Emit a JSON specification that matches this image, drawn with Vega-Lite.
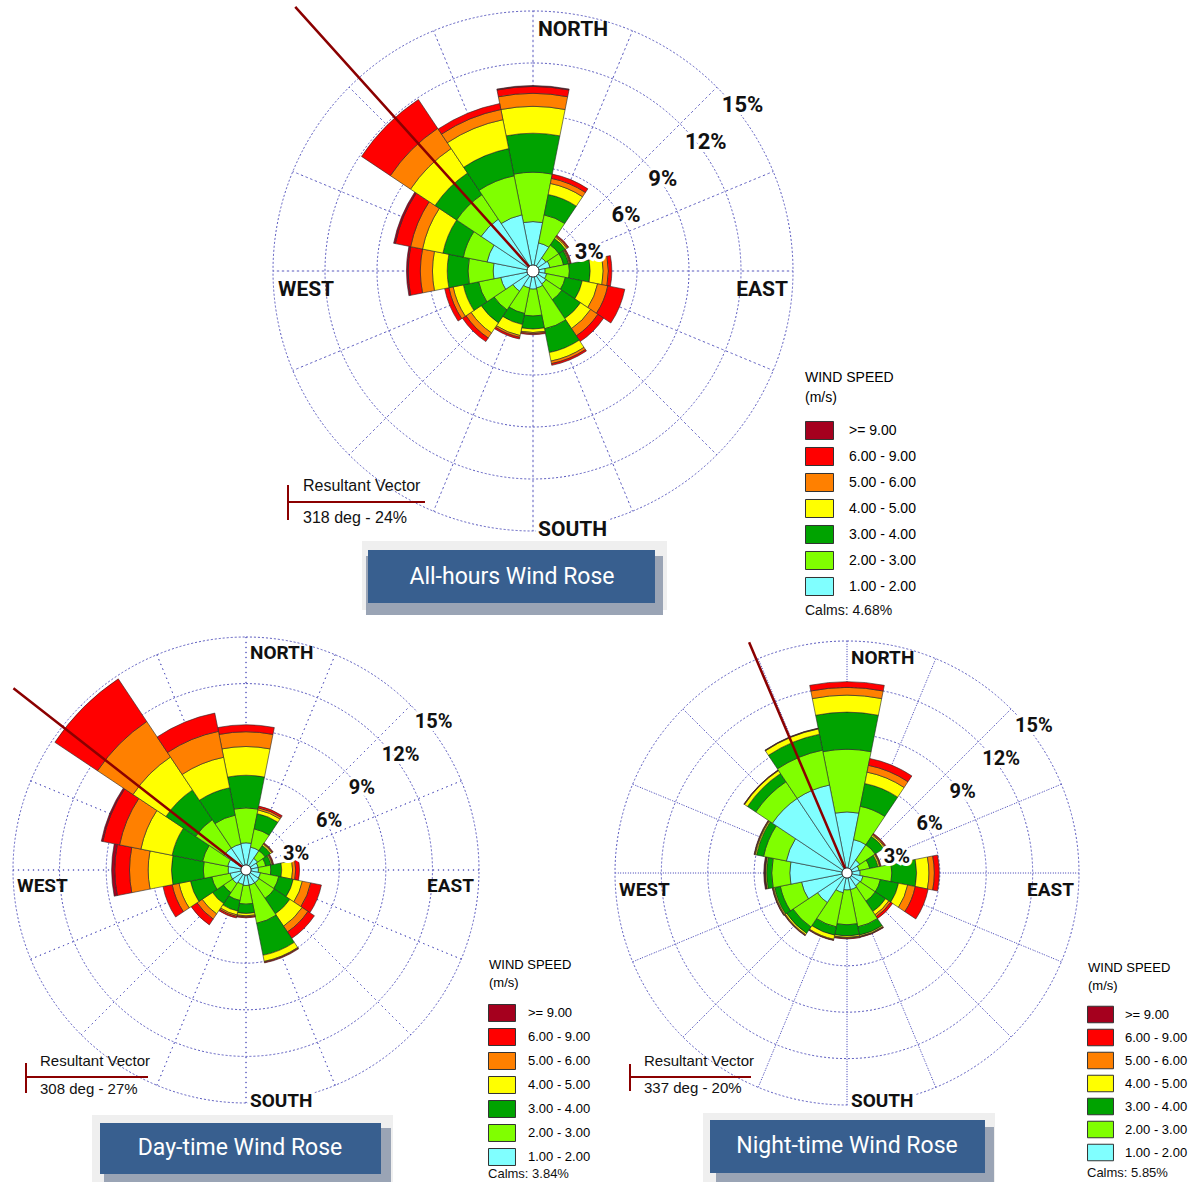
{
"$schema":"https://vega.github.io/schema/vega-lite/v6.json",
"padding":0,
"background":"white",
"bounds":"flush",
"spacing":40,
"config":{"view":{"stroke":null}},
"datasets":{
"rings":[{"r":3,"lab":"3%"},{"r":6,"lab":"6%"},{"r":9,"lab":"9%"},{"r":12,"lab":"12%"},{"r":15,"lab":"15%"}],
"dirs":[{"d":0},{"d":22.5},{"d":45},{"d":67.5},{"d":90},{"d":112.5},{"d":135},{"d":157.5},{"d":180},{"d":202.5},{"d":225},{"d":247.5},{"d":270},{"d":292.5},{"d":315},{"d":337.5}],
"all":[
{"dir":0,"s1":2.85,"s2":2.85,"s3":2.25,"s4":1.55,"s5":0.75,"s6":0.40,"s7":0.05},
{"dir":22.5,"s1":1.65,"s2":1.65,"s3":1.20,"s4":0.65,"s5":0.30,"s6":0.25},
{"dir":45,"s1":0.90,"s2":0.90,"s3":0.45,"s4":0.10,"s5":0.07,"s6":0.06},
{"dir":67.5,"s1":1.00,"s2":0.80,"s3":0.30,"s4":0.05,"s5":0.05,"s6":0.05},
{"dir":90,"s1":0.70,"s2":1.40,"s3":1.20,"s4":0.75,"s5":0.30,"s6":0.20},
{"dir":112.5,"s1":0.80,"s2":1.10,"s3":1.00,"s4":0.90,"s5":0.60,"s6":1.00},
{"dir":135,"s1":0.90,"s2":1.10,"s3":1.30,"s4":0.70,"s5":0.50,"s6":0.40},
{"dir":157.5,"s1":1.00,"s2":2.40,"s3":1.40,"s4":0.50,"s5":0.15,"s6":0.10},
{"dir":180,"s1":1.05,"s2":1.55,"s3":0.75,"s4":0.20,"s5":0.07,"s6":0.06},
{"dir":202.5,"s1":1.00,"s2":1.50,"s3":0.65,"s4":0.65,"s5":0.10,"s6":0.10},
{"dir":225,"s1":1.40,"s2":1.30,"s3":0.90,"s4":0.70,"s5":0.35,"s6":0.25},
{"dir":247.5,"s1":1.90,"s2":1.30,"s3":0.90,"s4":0.60,"s5":0.25,"s6":0.25},
{"dir":270,"s1":2.30,"s2":1.45,"s3":1.20,"s4":0.85,"s5":0.70,"s6":0.70,"s7":0.10},
{"dir":292.5,"s1":2.70,"s2":1.40,"s3":1.20,"s4":1.20,"s5":0.70,"s6":0.90,"s7":0.10},
{"dir":315,"s1":3.60,"s2":1.70,"s3":1.50,"s4":1.70,"s5":1.40,"s6":2.00},
{"dir":337.5,"s1":3.30,"s2":2.30,"s3":1.60,"s4":1.70,"s5":0.60,"s6":0.35}
],
"day":[
{"dir":0,"s1":1.75,"s2":2.25,"s3":2.10,"s4":1.85,"s5":0.95,"s6":0.45},
{"dir":22.5,"s1":1.50,"s2":1.20,"s3":1.00,"s4":0.25,"s5":0.13,"s6":0.12},
{"dir":45,"s1":0.90,"s2":0.60,"s3":0.40,"s4":0.10,"s5":0.05,"s6":0.05},
{"dir":67.5,"s1":0.80,"s2":0.50,"s3":0.35,"s4":0.07,"s5":0.05,"s6":0.05},
{"dir":90,"s1":0.80,"s2":0.80,"s3":0.70,"s4":0.70,"s5":0.20,"s6":0.25},
{"dir":112.5,"s1":0.95,"s2":1.20,"s3":0.95,"s4":0.60,"s5":0.55,"s6":0.70},
{"dir":135,"s1":1.00,"s2":1.20,"s3":1.20,"s4":0.95,"s5":0.45,"s6":0.50},
{"dir":157.5,"s1":1.00,"s2":2.50,"s3":2.10,"s4":0.40,"s5":0.05,"s6":0.05},
{"dir":180,"s1":1.00,"s2":1.20,"s3":0.60,"s4":0.15,"s5":0.07,"s6":0.06},
{"dir":202.5,"s1":0.95,"s2":1.05,"s3":0.70,"s4":0.25,"s5":0.10,"s6":0.10},
{"dir":225,"s1":1.05,"s2":0.70,"s3":0.85,"s4":0.80,"s5":0.40,"s6":0.45},
{"dir":247.5,"s1":1.05,"s2":1.20,"s3":1.40,"s4":0.75,"s5":0.45,"s6":0.60},
{"dir":270,"s1":1.15,"s2":1.60,"s3":2.05,"s4":1.50,"s5":1.20,"s6":0.95,"s7":0.20},
{"dir":292.5,"s1":1.20,"s2":1.65,"s3":2.00,"s4":2.05,"s5":1.40,"s6":1.10,"s7":0.10},
{"dir":315,"s1":1.70,"s2":2.20,"s3":2.30,"s4":2.55,"s5":2.75,"s6":3.30},
{"dir":337.5,"s1":1.70,"s2":1.90,"s3":1.80,"s4":2.00,"s5":1.70,"s6":1.20}
],
"night":[
{"dir":0,"s1":3.95,"s2":4.05,"s3":2.40,"s4":1.10,"s5":0.50,"s6":0.37},
{"dir":22.5,"s1":2.20,"s2":2.20,"s3":1.50,"s4":0.75,"s5":0.45,"s6":0.45},
{"dir":45,"s1":1.00,"s2":1.20,"s3":0.65,"s4":0.10,"s5":0.07,"s6":0.06},
{"dir":67.5,"s1":0.80,"s2":0.70,"s3":0.55,"s4":0.10,"s5":0.05,"s6":0.05},
{"dir":90,"s1":0.85,"s2":2.05,"s3":1.60,"s4":0.80,"s5":0.35,"s6":0.32},
{"dir":112.5,"s1":1.05,"s2":1.15,"s3":1.20,"s4":0.60,"s5":0.50,"s6":0.85},
{"dir":135,"s1":1.00,"s2":1.20,"s3":0.80,"s4":0.25,"s5":0.15,"s6":0.15},
{"dir":157.5,"s1":1.10,"s2":2.45,"s3":0.55,"s4":0.08,"s5":0.04,"s6":0.03},
{"dir":180,"s1":1.10,"s2":2.25,"s3":0.72,"s4":0.10,"s5":0.05,"s6":0.05},
{"dir":202.5,"s1":1.30,"s2":2.25,"s3":0.55,"s4":0.27,"s5":0.05,"s6":0.03},
{"dir":225,"s1":2.30,"s2":1.90,"s3":0.50,"s4":0.10,"s5":0.05,"s6":0.03},
{"dir":247.5,"s1":3.00,"s2":1.40,"s3":0.38,"s4":0.07,"s5":0.05,"s6":0.03},
{"dir":270,"s1":3.70,"s2":1.17,"s3":0.33,"s4":0.07,"s5":0.03,"s6":0.03,"s7":0.05},
{"dir":292.5,"s1":4.00,"s2":1.50,"s3":0.47,"s4":0.08,"s5":0.05,"s6":0.03},
{"dir":315,"s1":5.80,"s2":1.30,"s3":0.64,"s4":0.23,"s5":0.03,"s6":0.02},
{"dir":337.5,"s1":5.80,"s2":2.30,"s3":1.05,"s4":0.35,"s5":0.03,"s6":0.02}
]
},
"resolve":{"scale":{"fill":"independent","radius":"independent","theta":"independent","x":"independent","y":"independent"},"legend":{"fill":"independent"}},
"vconcat":[
{
"width":1066,"height":542,
"layer":[
{"data":{"name":"rings"},"mark":{"type":"arc","filled":false,"stroke":"#5a5abf","strokeWidth":1,"strokeDash":[2,2]},
 "encoding":{"theta":{"datum":0,"type":"quantitative","stack":null,"scale":{"type":"linear","domain":[0,360],"range":[0,6.283185307179586],"nice":false,"zero":false}},"theta2":{"datum":360},
 "radius":{"field":"r","type":"quantitative","stack":null,"scale":{"type":"linear","domain":[0,15],"range":[0,260],"nice":false}}}},
{"data":{"name":"dirs"},"mark":{"type":"arc","filled":false,"stroke":"#5a5abf","strokeWidth":1,"strokeDash":[1.2,3.8]},
 "encoding":{"theta":{"field":"d","type":"quantitative","stack":null},"theta2":{"field":"d"},"radius":{"datum":15,"type":"quantitative"},"radius2":{"datum":0}}},
{"data":{"name":"all"},
 "transform":[{"fold":["s1","s2","s3","s4","s5","s6","s7"],"as":["key","value"]},{"filter":"datum.value > 0"},{"stack":"value","groupby":["dir"],"sort":[{"field":"key","order":"ascending"}],"as":["r0","r1"]}],
 "mark":{"type":"arc","stroke":"#262626","strokeWidth":0.6,"thetaOffset":-0.19635,"theta2Offset":0.19635},
 "encoding":{"theta":{"field":"dir","type":"quantitative","stack":null},"theta2":{"field":"dir"},
  "radius":{"field":"r1","type":"quantitative","stack":null},"radius2":{"field":"r0"},
  "fill":{"field":"key","type":"nominal","scale":{"domain":["s7","s6","s5","s4","s3","s2","s1"],"range":["#A5001E","#FF0000","#FF8000","#FFFF00","#00A300","#80FF00","#80FFFF"]},
   "legend":{"title":["WIND SPEED","(m/s)"],"orient":"none","legendX":805,"legendY":371,"symbolType":"M-1,-0.643H1V0.643H-1Z","symbolSize":784,"symbolStrokeColor":"#333","symbolStrokeWidth":1,"labelFont":"Liberation Sans","labelFontSize":14,"labelColor":"#000","labelOffset":15,"titleFont":"Liberation Sans","titleFontSize":14,"titleFontWeight":"normal","titleColor":"#000","titleLineHeight":20,"titlePadding":11,"rowPadding":0,
   "labelExpr":"['>= 9.00','6.00 - 9.00','5.00 - 6.00','4.00 - 5.00','3.00 - 4.00','2.00 - 3.00','1.00 - 2.00'][indexof(['s7','s6','s5','s4','s3','s2','s1'], datum.value)]"}}}},
{"data":{"values":[{}]},"mark":{"type":"arc","filled":false,"stroke":"#8B0000","strokeWidth":2.5},
 "encoding":{"theta":{"datum":318,"type":"quantitative"},"theta2":{"datum":318},"radius":{"datum":20.5,"type":"quantitative","stack":null},"radius2":{"datum":0}}},
{"data":{"values":[{}]},"mark":{"type":"arc","fill":"white","stroke":"#222","strokeWidth":1},
 "encoding":{"theta":{"datum":0,"type":"quantitative"},"theta2":{"datum":360},"radius":{"datum":0.35,"type":"quantitative","stack":null}}},
{"data":{"name":"rings"},"mark":{"type":"text","align":"left","baseline":"top","dx":5,"dy":8,"font":"Roboto","fontWeight":"bold","fontSize":22,"color":"white","stroke":"white","strokeWidth":6},
 "encoding":{"theta":{"datum":45,"type":"quantitative"},"radius":{"field":"r","type":"quantitative","stack":null},"text":{"field":"lab"}}},
{"data":{"name":"rings"},"mark":{"type":"text","align":"left","baseline":"top","dx":5,"dy":8,"font":"Roboto","fontWeight":"bold","fontSize":22,"color":"#111"},
 "encoding":{"theta":{"datum":45,"type":"quantitative"},"radius":{"field":"r","type":"quantitative","stack":null},"text":{"field":"lab"}}},
{"data":{"values":[{"lab":"NORTH","a":0},{"lab":"WEST","a":270}]},"mark":{"type":"text","align":"left","baseline":"top","dx":5,"dy":8,"font":"Roboto","fontWeight":"bold","fontSize":21,"color":"#111"},
 "encoding":{"theta":{"field":"a","type":"quantitative"},"radius":{"datum":15,"type":"quantitative"},"text":{"field":"lab"}}},
{"data":{"values":[{"lab":"EAST","a":90}]},"mark":{"type":"text","align":"right","baseline":"top","dx":-5,"dy":8,"font":"Roboto","fontWeight":"bold","fontSize":21,"color":"#111"},
 "encoding":{"theta":{"field":"a","type":"quantitative"},"radius":{"datum":15,"type":"quantitative"},"text":{"field":"lab"}}},
{"data":{"values":[{"lab":"SOUTH","a":180}]},"mark":{"type":"text","align":"left","baseline":"alphabetic","dx":5,"dy":5,"font":"Roboto","fontWeight":"bold","fontSize":21,"color":"white","stroke":"white","strokeWidth":6},
 "encoding":{"theta":{"field":"a","type":"quantitative"},"radius":{"datum":15,"type":"quantitative"},"text":{"field":"lab"}}},
{"data":{"values":[{"lab":"SOUTH","a":180}]},"mark":{"type":"text","align":"left","baseline":"alphabetic","dx":5,"dy":5,"font":"Roboto","fontWeight":"bold","fontSize":21,"color":"#111"},
 "encoding":{"theta":{"field":"a","type":"quantitative"},"radius":{"datum":15,"type":"quantitative"},"text":{"field":"lab"}}},
{"data":{"values":[{}]},"mark":{"type":"rect","fill":"#efefef"},
 "encoding":{"x":{"datum":-9.866,"type":"quantitative","scale":{"domain":[-30.75,30.75],"nice":false,"zero":false},"axis":null},"x2":{"datum":7.731},
  "y":{"datum":-15.577,"type":"quantitative","scale":{"domain":[-15.635,15.635],"nice":false,"zero":false},"axis":null},"y2":{"datum":-19.558}}},
{"data":{"values":[{}]},"mark":{"type":"rect","fill":"#9aa4b5"},
 "encoding":{"x":{"datum":-9.635,"type":"quantitative"},"x2":{"datum":7.5},"y":{"datum":-16.442,"type":"quantitative"},"y2":{"datum":-19.846}}},
{"data":{"values":[{}]},"mark":{"type":"rect","fill":"#385F8F"},
 "encoding":{"x":{"datum":-9.519,"type":"quantitative"},"x2":{"datum":7.038},"y":{"datum":-16.096,"type":"quantitative"},"y2":{"datum":-19.154}}},
{"data":{"values":[{}]},"mark":{"type":"text","text":"All-hours Wind Rose","font":"Roboto","fontSize":23,"color":"white","align":"center","baseline":"middle"},
 "encoding":{"x":{"datum":-1.212,"type":"quantitative"},"y":{"datum":-17.654,"type":"quantitative"}}},
{"data":{"values":[{}]},"mark":{"type":"rule","color":"#8B0000","strokeWidth":2},
 "encoding":{"x":{"datum":-14.135,"type":"quantitative"},"y":{"datum":-12.346,"type":"quantitative"},"y2":{"datum":-14.365}}},
{"data":{"values":[{}]},"mark":{"type":"rule","color":"#8B0000","strokeWidth":2},
 "encoding":{"x":{"datum":-14.135,"type":"quantitative"},"x2":{"datum":-6.231},"y":{"datum":-13.327,"type":"quantitative"}}},
{"data":{"values":[{}]},"mark":{"type":"text","text":"Resultant Vector","font":"Liberation Sans","fontSize":16,"color":"#111","align":"left","baseline":"alphabetic"},
 "encoding":{"x":{"datum":-13.269,"type":"quantitative"},"y":{"datum":-12.692,"type":"quantitative"}}},
{"data":{"values":[{}]},"mark":{"type":"text","text":"318 deg - 24%","font":"Liberation Sans","fontSize":16,"color":"#111","align":"left","baseline":"alphabetic"},
 "encoding":{"x":{"datum":-13.269,"type":"quantitative"},"y":{"datum":-14.538,"type":"quantitative"}}},
{"data":{"values":[{}]},"mark":{"type":"text","text":"Calms: 4.68%","font":"Liberation Sans","fontSize":14,"color":"#111","align":"left","baseline":"middle"},
 "encoding":{"x":{"datum":15.692,"type":"quantitative"},"y":{"datum":-19.615,"type":"quantitative"}}}
]
},
{
"hconcat":[
{
"width":492,"height":576,
"layer":[
{"data":{"name":"rings"},"mark":{"type":"arc","filled":false,"stroke":"#5a5abf","strokeWidth":1,"strokeDash":[2,2]},
 "encoding":{"theta":{"datum":0,"type":"quantitative","stack":null,"scale":{"type":"linear","domain":[0,360],"range":[0,6.283185307179586],"nice":false,"zero":false}},"theta2":{"datum":360},
 "radius":{"field":"r","type":"quantitative","stack":null,"scale":{"type":"linear","domain":[0,15],"range":[0,233],"nice":false}}}},
{"data":{"name":"dirs"},"mark":{"type":"arc","filled":false,"stroke":"#5a5abf","strokeWidth":1,"strokeDash":[1.2,3.8]},
 "encoding":{"theta":{"field":"d","type":"quantitative","stack":null},"theta2":{"field":"d"},"radius":{"datum":15,"type":"quantitative"},"radius2":{"datum":0}}},
{"data":{"name":"day"},
 "transform":[{"fold":["s1","s2","s3","s4","s5","s6","s7"],"as":["key","value"]},{"filter":"datum.value > 0"},{"stack":"value","groupby":["dir"],"sort":[{"field":"key","order":"ascending"}],"as":["r0","r1"]}],
 "mark":{"type":"arc","stroke":"#262626","strokeWidth":0.6,"thetaOffset":-0.19635,"theta2Offset":0.19635},
 "encoding":{"theta":{"field":"dir","type":"quantitative","stack":null},"theta2":{"field":"dir"},
  "radius":{"field":"r1","type":"quantitative","stack":null},"radius2":{"field":"r0"},
  "fill":{"field":"key","type":"nominal","scale":{"domain":["s7","s6","s5","s4","s3","s2","s1"],"range":["#A5001E","#FF0000","#FF8000","#FFFF00","#00A300","#80FF00","#80FFFF"]},
   "legend":{"title":["WIND SPEED","(m/s)"],"orient":"none","legendX":489,"legendY":377,"symbolType":"M-1.12,-0.705H1.12V0.705H-1.12Z","symbolSize":580,"symbolStrokeColor":"#333","symbolStrokeWidth":1,"labelFont":"Liberation Sans","labelFontSize":13,"labelColor":"#000","labelOffset":13,"titleFont":"Liberation Sans","titleFontSize":13,"titleFontWeight":"normal","titleColor":"#000","titleLineHeight":18,"titlePadding":10,"rowPadding":0,
   "labelExpr":"['>= 9.00','6.00 - 9.00','5.00 - 6.00','4.00 - 5.00','3.00 - 4.00','2.00 - 3.00','1.00 - 2.00'][indexof(['s7','s6','s5','s4','s3','s2','s1'], datum.value)]"}}}},
{"data":{"values":[{}]},"mark":{"type":"arc","filled":false,"stroke":"#8B0000","strokeWidth":2.5},
 "encoding":{"theta":{"datum":308,"type":"quantitative"},"theta2":{"datum":308},"radius":{"datum":19.0,"type":"quantitative","stack":null},"radius2":{"datum":0}}},
{"data":{"values":[{}]},"mark":{"type":"arc","fill":"white","stroke":"#222","strokeWidth":1},
 "encoding":{"theta":{"datum":0,"type":"quantitative"},"theta2":{"datum":360},"radius":{"datum":0.33,"type":"quantitative","stack":null}}},
{"data":{"name":"rings"},"mark":{"type":"text","align":"left","baseline":"top","dx":4,"dy":7,"font":"Roboto","fontWeight":"bold","fontSize":20,"color":"white","stroke":"white","strokeWidth":6},
 "encoding":{"theta":{"datum":45,"type":"quantitative"},"radius":{"field":"r","type":"quantitative","stack":null},"text":{"field":"lab"}}},
{"data":{"name":"rings"},"mark":{"type":"text","align":"left","baseline":"top","dx":4,"dy":7,"font":"Roboto","fontWeight":"bold","fontSize":20,"color":"#111"},
 "encoding":{"theta":{"datum":45,"type":"quantitative"},"radius":{"field":"r","type":"quantitative","stack":null},"text":{"field":"lab"}}},
{"data":{"values":[{"lab":"NORTH","a":0},{"lab":"WEST","a":270}]},"mark":{"type":"text","align":"left","baseline":"top","dx":4,"dy":7,"font":"Roboto","fontWeight":"bold","fontSize":19,"color":"#111"},
 "encoding":{"theta":{"field":"a","type":"quantitative"},"radius":{"datum":15,"type":"quantitative"},"text":{"field":"lab"}}},
{"data":{"values":[{"lab":"EAST","a":90}]},"mark":{"type":"text","align":"right","baseline":"top","dx":-5,"dy":7,"font":"Roboto","fontWeight":"bold","fontSize":19,"color":"#111"},
 "encoding":{"theta":{"field":"a","type":"quantitative"},"radius":{"datum":15,"type":"quantitative"},"text":{"field":"lab"}}},
{"data":{"values":[{"lab":"SOUTH","a":180}]},"mark":{"type":"text","align":"left","baseline":"alphabetic","dx":4,"dy":4,"font":"Roboto","fontWeight":"bold","fontSize":19,"color":"white","stroke":"white","strokeWidth":6},
 "encoding":{"theta":{"field":"a","type":"quantitative"},"radius":{"datum":15,"type":"quantitative"},"text":{"field":"lab"}}},
{"data":{"values":[{"lab":"SOUTH","a":180}]},"mark":{"type":"text","align":"left","baseline":"alphabetic","dx":4,"dy":4,"font":"Roboto","fontWeight":"bold","fontSize":19,"color":"#111"},
 "encoding":{"theta":{"field":"a","type":"quantitative"},"radius":{"datum":15,"type":"quantitative"},"text":{"field":"lab"}}},
{"data":{"values":[{}]},"mark":{"type":"rect","fill":"#efefef"},
 "encoding":{"x":{"datum":-9.914,"type":"quantitative","scale":{"domain":[-15.837,15.837],"nice":false,"zero":false},"axis":null},"x2":{"datum":9.464},
  "y":{"datum":-15.773,"type":"quantitative","scale":{"domain":[-18.541,18.541],"nice":false,"zero":false},"axis":null},"y2":{"datum":-20.086}}},
{"data":{"values":[{}]},"mark":{"type":"rect","fill":"#9aa4b5"},
 "encoding":{"x":{"datum":-9.142,"type":"quantitative"},"x2":{"datum":9.335},"y":{"datum":-16.61,"type":"quantitative"},"y2":{"datum":-20.086}}},
{"data":{"values":[{}]},"mark":{"type":"rect","fill":"#385F8F"},
 "encoding":{"x":{"datum":-9.399,"type":"quantitative"},"x2":{"datum":8.691},"y":{"datum":-16.288,"type":"quantitative"},"y2":{"datum":-19.571}}},
{"data":{"values":[{}]},"mark":{"type":"text","text":"Day-time Wind Rose","font":"Roboto","fontSize":23,"color":"white","align":"center","baseline":"middle"},
 "encoding":{"x":{"datum":-0.386,"type":"quantitative"},"y":{"datum":-17.897,"type":"quantitative"}}},
{"data":{"values":[{}]},"mark":{"type":"rule","color":"#8B0000","strokeWidth":2},
 "encoding":{"x":{"datum":-14.163,"type":"quantitative"},"y":{"datum":-12.425,"type":"quantitative"},"y2":{"datum":-14.356}}},
{"data":{"values":[{}]},"mark":{"type":"rule","color":"#8B0000","strokeWidth":2},
 "encoding":{"x":{"datum":-14.163,"type":"quantitative"},"x2":{"datum":-6.309},"y":{"datum":-13.326,"type":"quantitative"}}},
{"data":{"values":[{}]},"mark":{"type":"text","text":"Resultant Vector","font":"Liberation Sans","fontSize":15,"color":"#111","align":"left","baseline":"alphabetic"},
 "encoding":{"x":{"datum":-13.262,"type":"quantitative"},"y":{"datum":-12.618,"type":"quantitative"}}},
{"data":{"values":[{}]},"mark":{"type":"text","text":"308 deg - 27%","font":"Liberation Sans","fontSize":15,"color":"#111","align":"left","baseline":"alphabetic"},
 "encoding":{"x":{"datum":-13.262,"type":"quantitative"},"y":{"datum":-14.421,"type":"quantitative"}}},
{"data":{"values":[{}]},"mark":{"type":"text","text":"Calms: 3.84%","font":"Liberation Sans","fontSize":13,"color":"#111","align":"left","baseline":"middle"},
 "encoding":{"x":{"datum":15.58,"type":"quantitative"},"y":{"datum":-19.571,"type":"quantitative"}}}
]
},
{
"width":490,"height":582,
"layer":[
{"data":{"name":"rings"},"mark":{"type":"arc","filled":false,"stroke":"#5a5abf","strokeWidth":1,"strokeDash":[2,2]},
 "encoding":{"theta":{"datum":0,"type":"quantitative","stack":null,"scale":{"type":"linear","domain":[0,360],"range":[0,6.283185307179586],"nice":false,"zero":false}},"theta2":{"datum":360},
 "radius":{"field":"r","type":"quantitative","stack":null,"scale":{"type":"linear","domain":[0,15],"range":[0,232],"nice":false}}}},
{"data":{"name":"dirs"},"mark":{"type":"arc","filled":false,"stroke":"#5a5abf","strokeWidth":1,"strokeDash":[1.2,3.8]},
 "encoding":{"theta":{"field":"d","type":"quantitative","stack":null},"theta2":{"field":"d"},"radius":{"datum":15,"type":"quantitative"},"radius2":{"datum":0}}},
{"data":{"name":"night"},
 "transform":[{"fold":["s1","s2","s3","s4","s5","s6","s7"],"as":["key","value"]},{"filter":"datum.value > 0"},{"stack":"value","groupby":["dir"],"sort":[{"field":"key","order":"ascending"}],"as":["r0","r1"]}],
 "mark":{"type":"arc","stroke":"#262626","strokeWidth":0.6,"thetaOffset":-0.19635,"theta2Offset":0.19635},
 "encoding":{"theta":{"field":"dir","type":"quantitative","stack":null},"theta2":{"field":"dir"},
  "radius":{"field":"r1","type":"quantitative","stack":null},"radius2":{"field":"r0"},
  "fill":{"field":"key","type":"nominal","scale":{"domain":["s7","s6","s5","s4","s3","s2","s1"],"range":["#A5001E","#FF0000","#FF8000","#FFFF00","#00A300","#80FF00","#80FFFF"]},
   "legend":{"title":["WIND SPEED","(m/s)"],"orient":"none","legendX":486,"legendY":380,"symbolType":"M-1.1,-0.7H1.1V0.7H-1.1Z","symbolSize":557,"symbolStrokeColor":"#333","symbolStrokeWidth":1,"labelFont":"Liberation Sans","labelFontSize":13,"labelColor":"#000","labelOffset":12,"titleFont":"Liberation Sans","titleFontSize":13,"titleFontWeight":"normal","titleColor":"#000","titleLineHeight":18,"titlePadding":9,"rowPadding":0,
   "labelExpr":"['>= 9.00','6.00 - 9.00','5.00 - 6.00','4.00 - 5.00','3.00 - 4.00','2.00 - 3.00','1.00 - 2.00'][indexof(['s7','s6','s5','s4','s3','s2','s1'], datum.value)]"}}}},
{"data":{"values":[{}]},"mark":{"type":"arc","filled":false,"stroke":"#8B0000","strokeWidth":2.5},
 "encoding":{"theta":{"datum":337,"type":"quantitative"},"theta2":{"datum":337},"radius":{"datum":16.2,"type":"quantitative","stack":null},"radius2":{"datum":0}}},
{"data":{"values":[{}]},"mark":{"type":"arc","fill":"white","stroke":"#222","strokeWidth":1},
 "encoding":{"theta":{"datum":0,"type":"quantitative"},"theta2":{"datum":360},"radius":{"datum":0.33,"type":"quantitative","stack":null}}},
{"data":{"name":"rings"},"mark":{"type":"text","align":"left","baseline":"top","dx":4,"dy":7,"font":"Roboto","fontWeight":"bold","fontSize":20,"color":"white","stroke":"white","strokeWidth":6},
 "encoding":{"theta":{"datum":45,"type":"quantitative"},"radius":{"field":"r","type":"quantitative","stack":null},"text":{"field":"lab"}}},
{"data":{"name":"rings"},"mark":{"type":"text","align":"left","baseline":"top","dx":4,"dy":7,"font":"Roboto","fontWeight":"bold","fontSize":20,"color":"#111"},
 "encoding":{"theta":{"datum":45,"type":"quantitative"},"radius":{"field":"r","type":"quantitative","stack":null},"text":{"field":"lab"}}},
{"data":{"values":[{"lab":"NORTH","a":0},{"lab":"WEST","a":270}]},"mark":{"type":"text","align":"left","baseline":"top","dx":4,"dy":8,"font":"Roboto","fontWeight":"bold","fontSize":19,"color":"#111"},
 "encoding":{"theta":{"field":"a","type":"quantitative"},"radius":{"datum":15,"type":"quantitative"},"text":{"field":"lab"}}},
{"data":{"values":[{"lab":"EAST","a":90}]},"mark":{"type":"text","align":"right","baseline":"top","dx":-5,"dy":8,"font":"Roboto","fontWeight":"bold","fontSize":19,"color":"#111"},
 "encoding":{"theta":{"field":"a","type":"quantitative"},"radius":{"datum":15,"type":"quantitative"},"text":{"field":"lab"}}},
{"data":{"values":[{"lab":"SOUTH","a":180}]},"mark":{"type":"text","align":"left","baseline":"alphabetic","dx":4,"dy":2,"font":"Roboto","fontWeight":"bold","fontSize":19,"color":"white","stroke":"white","strokeWidth":6},
 "encoding":{"theta":{"field":"a","type":"quantitative"},"radius":{"datum":15,"type":"quantitative"},"text":{"field":"lab"}}},
{"data":{"values":[{"lab":"SOUTH","a":180}]},"mark":{"type":"text","align":"left","baseline":"alphabetic","dx":4,"dy":2,"font":"Roboto","fontWeight":"bold","fontSize":19,"color":"#111"},
 "encoding":{"theta":{"field":"a","type":"quantitative"},"radius":{"datum":15,"type":"quantitative"},"text":{"field":"lab"}}},
{"data":{"values":[{}]},"mark":{"type":"rect","fill":"#efefef"},
 "encoding":{"x":{"datum":-9.31,"type":"quantitative","scale":{"domain":[-15.841,15.841],"nice":false,"zero":false},"axis":null},"x2":{"datum":9.569},
  "y":{"datum":-15.517,"type":"quantitative","scale":{"domain":[-18.814,18.814],"nice":false,"zero":false},"axis":null},"y2":{"datum":-19.978}}},
{"data":{"values":[{}]},"mark":{"type":"rect","fill":"#9aa4b5"},
 "encoding":{"x":{"datum":-8.47,"type":"quantitative"},"x2":{"datum":9.504},"y":{"datum":-16.422,"type":"quantitative"},"y2":{"datum":-19.978}}},
{"data":{"values":[{}]},"mark":{"type":"rect","fill":"#385F8F"},
 "encoding":{"x":{"datum":-8.858,"type":"quantitative"},"x2":{"datum":8.922},"y":{"datum":-15.97,"type":"quantitative"},"y2":{"datum":-19.397}}},
{"data":{"values":[{}]},"mark":{"type":"text","text":"Night-time Wind Rose","font":"Roboto","fontSize":23,"color":"white","align":"center","baseline":"middle"},
 "encoding":{"x":{"datum":0,"type":"quantitative"},"y":{"datum":-17.651,"type":"quantitative"}}},
{"data":{"values":[{}]},"mark":{"type":"rule","color":"#8B0000","strokeWidth":2},
 "encoding":{"x":{"datum":-14.03,"type":"quantitative"},"y":{"datum":-12.349,"type":"quantitative"},"y2":{"datum":-14.095}}},
{"data":{"values":[{}]},"mark":{"type":"rule","color":"#8B0000","strokeWidth":2},
 "encoding":{"x":{"datum":-14.03,"type":"quantitative"},"x2":{"datum":-6.207},"y":{"datum":-13.19,"type":"quantitative"}}},
{"data":{"values":[{}]},"mark":{"type":"text","text":"Resultant Vector","font":"Liberation Sans","fontSize":15,"color":"#111","align":"left","baseline":"alphabetic"},
 "encoding":{"x":{"datum":-13.125,"type":"quantitative"},"y":{"datum":-12.478,"type":"quantitative"}}},
{"data":{"values":[{}]},"mark":{"type":"text","text":"337 deg - 20%","font":"Liberation Sans","fontSize":15,"color":"#111","align":"left","baseline":"alphabetic"},
 "encoding":{"x":{"datum":-13.125,"type":"quantitative"},"y":{"datum":-14.224,"type":"quantitative"}}},
{"data":{"values":[{}]},"mark":{"type":"text","text":"Calms: 5.85%","font":"Liberation Sans","fontSize":13,"color":"#111","align":"left","baseline":"middle"},
 "encoding":{"x":{"datum":15.517,"type":"quantitative"},"y":{"datum":-19.397,"type":"quantitative"}}}
]
}
],
"spacing":110,
"bounds":"flush",
"resolve":{"scale":{"fill":"independent","radius":"independent","theta":"independent","x":"independent","y":"independent"},"legend":{"fill":"independent"}}
}
]
}
